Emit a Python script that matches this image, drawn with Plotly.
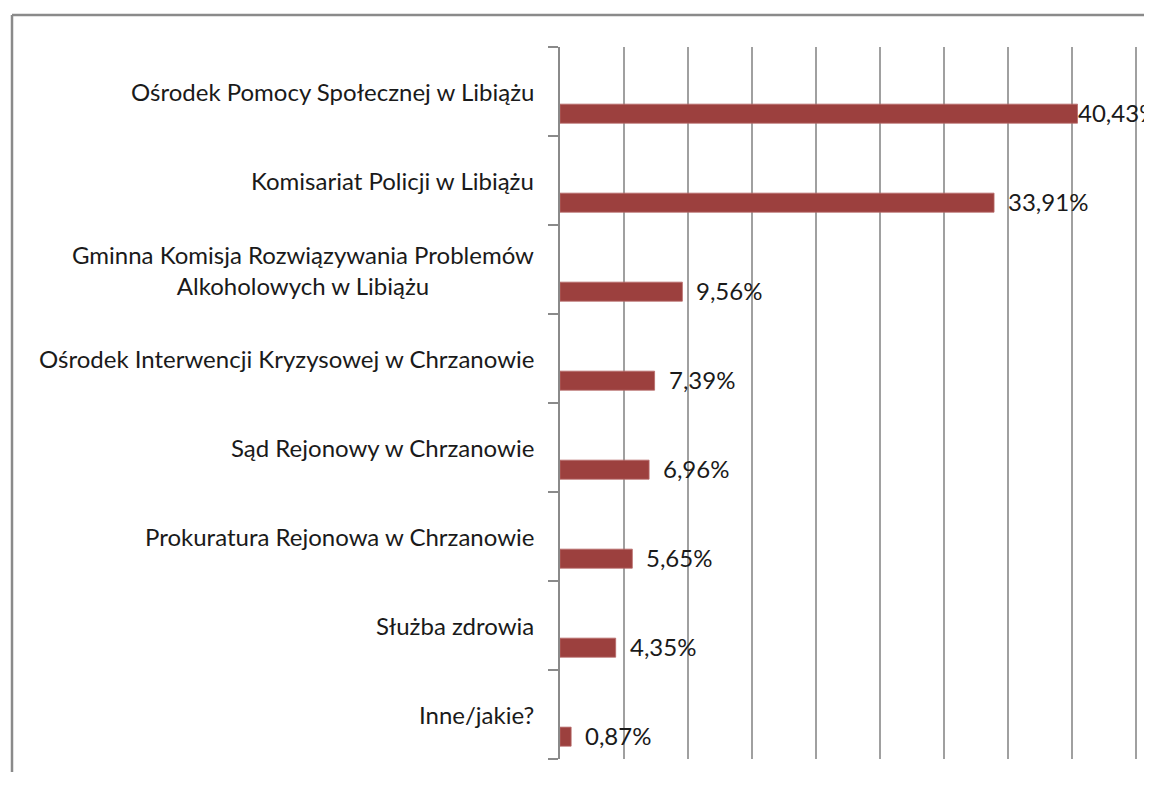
import plotly.graph_objects as go

categories = [
    "Ośrodek Pomocy Społecznej w Libiążu",
    "Komisariat Policji w Libiążu",
    "Gminna Komisja Rozwiązywania Problemów<br>Alkoholowych w Libiążu",
    "Ośrodek Interwencji Kryzysowej w Chrzanowie",
    "Sąd Rejonowy w Chrzanowie",
    "Prokuratura Rejonowa w Chrzanowie",
    "Służba zdrowia",
    "Inne/jakie?",
]
values = [40.43, 33.91, 9.56, 7.39, 6.96, 5.65, 4.35, 0.87]
value_labels = [f"{v:.2f}%".replace(".", ",") for v in values]
label_pad = [-2, 12, 12, 12, 12, 12, 12, 12]

FONT = "Lato"
FSIZE = 24
BAR_OFFSET = 0.142
BAR_WIDTH = 0.214
FIG_W, FIG_H = 1144, 764   # page adds an 8px body margin; avoid scrollbars
M_L, M_T, PLOT_H = 552, 39, 712
PLOT_W = FIG_W - M_L

idx = list(range(len(categories)))

fig = go.Figure()
fig.add_trace(go.Bar(
    x=values,
    y=idx,
    orientation="h",
    width=BAR_WIDTH,
    offset=BAR_OFFSET,
    marker=dict(color="#9C403E", line=dict(color="#B86A68", width=0.8)),
    hoverinfo="skip",
))

annotations = []
for i, c in enumerate(categories):
    annotations.append(dict(
        x=-24 / PLOT_W, xref="paper", xanchor="right",
        y=i, yref="y", yanchor="middle",
        text=c, showarrow=False, align="center",
        font=dict(family=FONT, size=FSIZE, color="#1a1a1a"),
    ))
for i, (v, t) in enumerate(zip(values, value_labels)):
    annotations.append(dict(
        x=v, xref="x", xanchor="left", xshift=label_pad[i],
        y=i + BAR_OFFSET + BAR_WIDTH / 2, yref="y", yanchor="middle",
        yshift=1,
        text=t, showarrow=False,
        font=dict(family=FONT, size=FSIZE, color="#1a1a1a"),
    ))

fx = -548 / PLOT_W
fy = 1 + 32 / PLOT_H
shapes = [
    dict(type="line", xref="paper", yref="paper",
         x0=fx, x1=1.2, y0=fy, y1=fy,
         line=dict(color="#8a8a8a", width=2.5)),
    dict(type="line", xref="paper", yref="paper",
         x0=fx, x1=fx, y0=fy, y1=-0.1,
         line=dict(color="#8a8a8a", width=2.5)),
]

fig.update_layout(
    width=FIG_W, height=FIG_H,
    margin=dict(l=M_L, r=0, t=M_T, b=FIG_H - M_T - PLOT_H),
    paper_bgcolor="white", plot_bgcolor="white",
    showlegend=False,
    annotations=annotations,
    shapes=shapes,
    xaxis=dict(
        range=[0, PLOT_W / 12.8], dtick=5, tick0=0,
        showgrid=True, gridcolor="#a0a0a0", gridwidth=1.6,
        showticklabels=False, zeroline=False, showline=False, ticks="",
        fixedrange=True,
    ),
    yaxis=dict(
        range=[7.5, -0.5],
        tickmode="array", tickvals=[i - 0.5 for i in range(9)],
        ticktext=[""] * 9,
        ticks="outside", ticklen=10, tickcolor="#8a8a8a", tickwidth=1.6,
        showline=True, linecolor="#8a8a8a", linewidth=1.6,
        showgrid=False, zeroline=False,
    ),
)

fig.write_html("out.html")
